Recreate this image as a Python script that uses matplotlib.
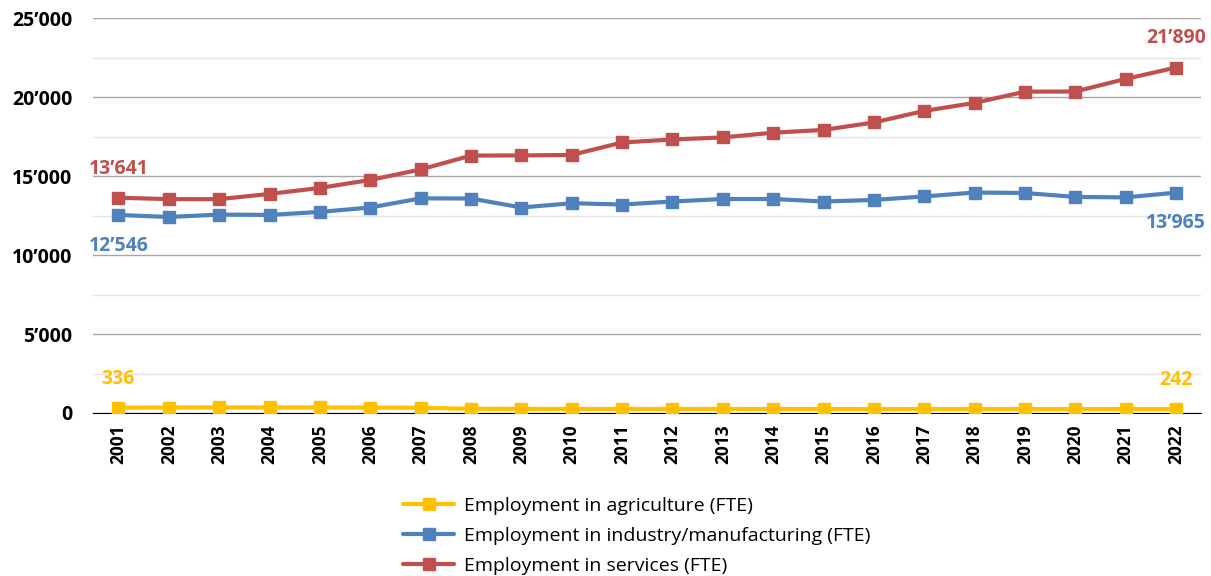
import matplotlib.pyplot as plt
from matplotlib.ticker import MultipleLocator, FuncFormatter

years = list(range(2001, 2023))

agriculture = [336, 345, 355, 350, 350, 345, 330, 265, 260, 255, 255,
               255, 255, 250, 250, 245, 245, 245, 245, 245, 245, 242]
industry = [12546, 12420, 12570, 12550, 12740, 13020, 13600, 13590, 13020, 13290, 13210,
            13400, 13560, 13560, 13400, 13500, 13720, 13970, 13940, 13690, 13660, 13965]
services = [13641, 13550, 13550, 13880, 14260, 14765, 15430, 16310, 16320, 16350, 17140,
            17330, 17460, 17760, 17935, 18410, 19140, 19650, 20360, 20370, 21170, 21890]

names = ['Employment in agriculture (FTE)',
         'Employment in industry/manufacturing (FTE)',
         'Employment in services (FTE)']
colors = ['#FFC000', '#4F81BD', '#C0504D']


def fmt(v):
    return f'{v:,.0f}'.replace(',', '\u2019')


fig = plt.figure(figsize=(12.11, 5.76), dpi=100)
ax = fig.add_axes([0.077, 0.283, 0.915, 0.685])

for vals, name, c in zip([agriculture, industry, services], names, colors):
    ax.plot(years, vals, color=c, lw=3, marker='s', markersize=8,
            solid_capstyle='round', label=name, zorder=3)

# Data labels at the first and last year
lbl = dict(fontsize=14, fontweight='bold', ha='center', va='center',
           family='Open Sans', textcoords='offset points')
for i in [0, -1]:
    ax.annotate(fmt(services[i]), (years[i], services[i]), xytext=(0, 21),
                color=colors[2], **lbl)
    ax.annotate(fmt(industry[i]), (years[i], industry[i]), xytext=(0, -22),
                color=colors[1], **lbl)
    ax.annotate(fmt(agriculture[i]), (years[i], agriculture[i]), xytext=(0, 21),
                color=colors[0], **lbl)

ax.set_xlim(2000.5, 2022.5)
ax.set_ylim(0, 25000)
ax.set_xticks(years)
ax.set_xticklabels([str(y) for y in years], rotation=90, fontsize=12.5,
                   fontweight='bold', family='Open Sans')
ax.yaxis.set_major_locator(MultipleLocator(5000))
ax.yaxis.set_minor_locator(MultipleLocator(2500))
ax.yaxis.set_major_formatter(FuncFormatter(lambda v, p: fmt(v)))
for t in ax.get_yticklabels():
    t.set_fontweight('bold')
    t.set_fontsize(14)
    t.set_family('Open Sans')

ax.grid(axis='y', which='major', color='#a6a6a6', lw=1)
ax.grid(axis='y', which='minor', color='#e3e3e3', lw=1)
ax.set_axisbelow(True)
for s in ['top', 'right', 'left']:
    ax.spines[s].set_visible(False)
ax.spines['bottom'].set_color('black')
ax.tick_params(axis='both', which='both', length=0)
ax.tick_params(axis='y', pad=15)
ax.tick_params(axis='x', pad=8)

fig.legend(loc='upper left', bbox_to_anchor=(0.333, 0.137), frameon=False,
           prop={'family': 'Open Sans', 'size': 14}, handlelength=2.6,
           labelspacing=0.62, handletextpad=0.5, borderaxespad=0,
           borderpad=0)

fig.savefig('out.png', dpi=100)
